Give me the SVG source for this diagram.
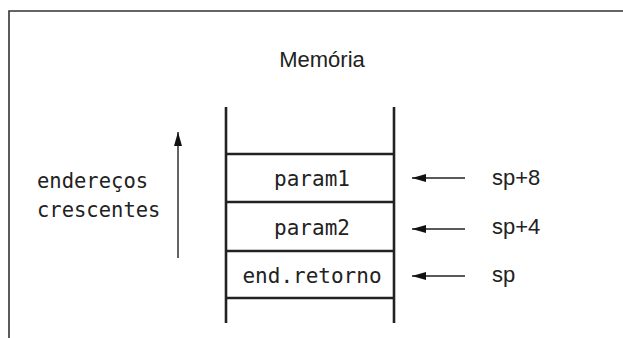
<svg xmlns="http://www.w3.org/2000/svg" width="623" height="338" viewBox="0 0 623 338">
<style>
.frame{fill:none;stroke:#333;stroke-width:1.6}
.stack{fill:none;stroke:#222;stroke-width:2.6}
.mono{font-family:"DejaVu Sans Mono","Liberation Mono",monospace;font-size:21px;fill:#222}
.lbl{font-size:20.5px}
.sans{font-family:"Liberation Sans",Arial,sans-serif;font-size:22px;fill:#222}
.conn{stroke:#222;stroke-width:1.4;fill:none}
</style>
<defs>
<marker id="ah" viewBox="0 0 14 8" refX="14" refY="4" markerWidth="14" markerHeight="8" markerUnits="userSpaceOnUse" orient="auto">
<path d="M0,0 L14,4 L0,8 Z" fill="#111"/>
</marker>
</defs>
<path class="frame" d="M9,338 V11 H623"/>
<text class="sans" x="322" y="67" text-anchor="middle" font-size="23.3">Memória</text>
<g id="stack">
<line class="stack" x1="226" y1="107" x2="226" y2="323"/>
<line class="stack" x1="394" y1="107" x2="394" y2="323"/>
</g>
<g id="param1">
<line class="stack" x1="226" y1="154" x2="394" y2="154"/>
<text class="mono" x="312" y="186" text-anchor="middle">param1</text>
</g>
<g id="param2">
<line class="stack" x1="226" y1="202" x2="394" y2="202"/>
<text class="mono" x="312" y="235" text-anchor="middle">param2</text>
</g>
<g id="endretorno">
<line class="stack" x1="226" y1="251" x2="394" y2="251"/>
<line class="stack" x1="226" y1="298" x2="394" y2="298"/>
<text class="mono" x="312" y="283" text-anchor="middle">end.retorno</text>
</g>
<g id="labels">
<text class="mono lbl" x="37" y="188">endereços</text>
<text class="mono lbl" x="37" y="217">crescentes</text>
<text class="sans" x="492" y="185">sp+8</text>
<text class="sans" x="492" y="234">sp+4</text>
<text class="sans" x="492" y="282">sp</text>
</g>
<g id="connectors">
<line class="conn" x1="178" y1="258" x2="178" y2="132" marker-end="url(#ah)"/>
<line class="conn" x1="465" y1="178" x2="412" y2="178" marker-end="url(#ah)"/>
<line class="conn" x1="465" y1="229" x2="412" y2="229" marker-end="url(#ah)"/>
<line class="conn" x1="465" y1="276" x2="412" y2="276" marker-end="url(#ah)"/>
</g>
</svg>
